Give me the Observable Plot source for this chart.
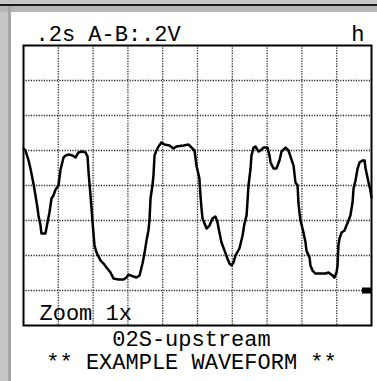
<!DOCTYPE html>
<html><head><meta charset="utf-8">
<script src="https://cdn.jsdelivr.net/npm/d3@7"></script>
<script src="https://cdn.jsdelivr.net/npm/@observablehq/plot@0.6"></script>
<style>
html,body{margin:0;padding:0;}
body{width:377px;height:381px;background:#c6c6c6;position:relative;overflow:hidden;}
#topline{position:absolute;left:0;top:4px;width:377px;height:2px;background:#1a1a1a;}
#topband{position:absolute;left:0;top:6px;width:377px;height:6px;background:#b6b6b6;}
#leftband{position:absolute;left:8px;top:6px;width:3px;height:375px;background:#a6a6a6;}
#panel{position:absolute;left:11px;top:12px;right:0;bottom:0;background:#fff;}
#chart{position:absolute;left:0;top:0;}
</style></head>
<body>
<div id="topline"></div><div id="topband"></div><div id="leftband"></div><div id="panel"></div>
<div id="chart"></div>
<script>
const times = [0.000,0.011,0.029,0.040,0.057,0.069,0.080,0.086,0.098,0.103,
0.126,0.138,0.149,0.161,0.172,0.184,0.201,0.213,0.230,0.241,
0.259,0.282,0.299,0.316,0.339,0.356,0.368,0.374,0.385,0.391,
0.397,0.408,0.420,0.443,0.460,0.477,0.500,0.517,0.546,0.575,
0.592,0.603,0.632,0.649,0.667,0.684,0.695,0.707,0.718,0.724,
0.730,0.741,0.747,0.753,0.764,0.776,0.793,0.810,0.839,0.862,
0.879,0.920,0.948,0.966,0.983,0.994,1.011,1.017,1.023,1.029,
1.052,1.069,1.086,1.103,1.115,1.126,1.138,1.155,1.172,1.184,
1.195,1.207,1.218,1.241,1.259,1.270,1.282,1.287,1.293,1.305,
1.310,1.322,1.333,1.351,1.362,1.379,1.402,1.414,1.420,1.437,
1.454,1.471,1.483,1.506,1.523,1.534,1.552,1.563,1.575,1.580,
1.586,1.592,1.609,1.621,1.626,1.644,1.649,1.661,1.678,1.707,
1.736,1.753,1.776,1.787,1.799,1.805,1.810,1.816,1.828,1.845,
1.856,1.868,1.879,1.891,1.897,1.908,1.920,1.931,1.948,1.960,
1.966,1.977,1.983,1.994,2.000];
const volts = [0.811,0.800,0.743,0.697,0.611,0.543,0.474,0.429,0.371,0.326,
0.326,0.389,0.446,0.526,0.543,0.577,0.600,0.691,0.760,0.771,
0.777,0.771,0.760,0.789,0.794,0.789,0.766,0.674,0.543,0.469,
0.389,0.257,0.217,0.171,0.154,0.131,0.103,0.069,0.063,0.063,
0.074,0.091,0.080,0.074,0.086,0.154,0.211,0.286,0.343,0.400,
0.526,0.600,0.657,0.771,0.800,0.823,0.846,0.834,0.829,0.811,
0.823,0.829,0.834,0.817,0.800,0.714,0.640,0.543,0.469,0.411,
0.354,0.371,0.411,0.423,0.389,0.331,0.274,0.229,0.183,0.154,
0.143,0.160,0.200,0.240,0.314,0.383,0.429,0.503,0.600,0.697,
0.771,0.817,0.823,0.794,0.800,0.817,0.817,0.771,0.731,0.697,
0.697,0.743,0.794,0.817,0.800,0.766,0.714,0.617,0.600,0.503,
0.446,0.400,0.331,0.274,0.229,0.189,0.143,0.114,0.097,0.097,
0.097,0.103,0.086,0.074,0.103,0.143,0.257,0.297,0.331,0.343,
0.371,0.400,0.429,0.503,0.583,0.629,0.697,0.731,0.743,0.743,
0.697,0.646,0.617,0.571,0.531];
const timeGrid = [0.2,0.4,0.6,0.8,1.0,1.2,1.4,1.6,1.8];
const voltGrid = [0,0.2,0.4,0.6,0.8,1.0,1.2];
const groundLevel = 0;
const headerLeft = ".2s A-B:.2V";
const headerRight = "h";
const zoomLabel = "Zoom 1x";
const footer1 = "02S-upstream";
const footer2 = "** EXAMPLE WAVEFORM **";

const samples = times.map((t, i) => ({t, v: volts[i]}));
const font = "Liberation Mono";
const fs = 22;
const grid = {stroke: "#222", strokeWidth: 1.3, strokeDasharray: "1.2,1.4"};

const chart = Plot.plot({
  width: 377, height: 381,
  marginLeft: 23, marginRight: 6, marginTop: 45, marginBottom: 56,
  x: {domain: [0, 2.0], axis: null},
  y: {domain: [-0.2, 1.4], axis: null},
  style: {background: "transparent", fontFamily: font, color: "#000", overflow: "visible"},
  marks: [
    Plot.ruleX(timeGrid, grid),
    Plot.ruleY(voltGrid, grid),
    Plot.line(samples, {x: "t", y: "v", stroke: "#000", strokeWidth: 2.5}),
    Plot.ruleY([groundLevel], {x1: 1.948, x2: 2.0, stroke: "#000", strokeWidth: 6}),
    Plot.frame({stroke: "#000", strokeWidth: 2}),
    Plot.text([headerLeft], {text: d => d, frameAnchor: "top-left", textAnchor: "start", lineAnchor: "bottom", dx: 12, dy: -5, fontSize: fs, fill: "#000"}),
    Plot.text([headerRight], {text: d => d, frameAnchor: "top-right", textAnchor: "end", lineAnchor: "bottom", dx: -7, dy: -5, fontSize: fs, fill: "#000"}),
    Plot.text([zoomLabel], {text: d => d, frameAnchor: "bottom-left", textAnchor: "start", lineAnchor: "bottom", dx: 16, dy: -6, fontSize: fs, fill: "#000"}),
    Plot.text([footer1], {text: d => d, frameAnchor: "bottom", textAnchor: "middle", lineAnchor: "bottom", dx: -6, dy: 20, fontSize: fs, fill: "#000"}),
    Plot.text([footer2], {text: d => d, frameAnchor: "bottom", textAnchor: "middle", lineAnchor: "bottom", dx: -6, dy: 43, fontSize: fs, fill: "#000"})
  ]
});
document.getElementById("chart").appendChild(chart);
</script>
</body></html>
